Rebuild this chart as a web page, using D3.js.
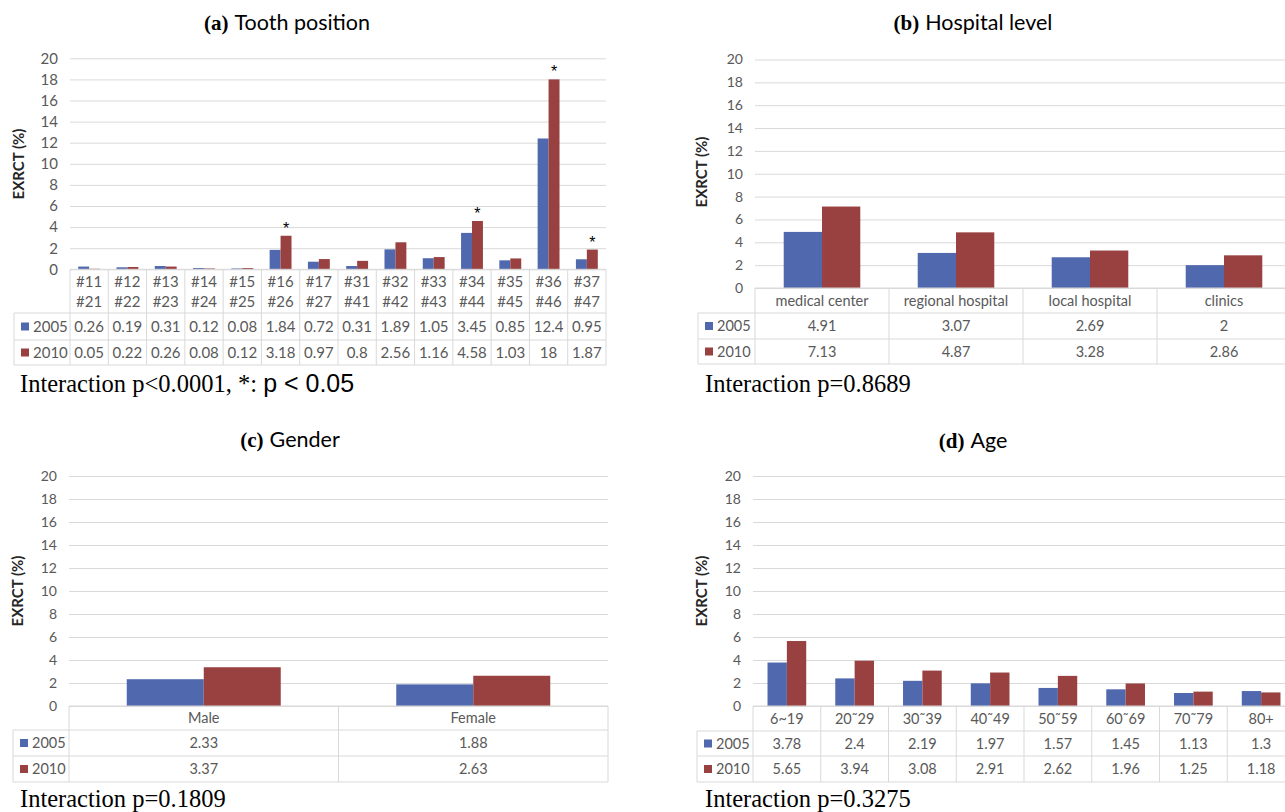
<!DOCTYPE html>
<html>
<head>
<meta charset="utf-8">
<script src="https://cdn.jsdelivr.net/npm/d3@7"></script>
<style>
  body { margin: 0; background: #fff; overflow: hidden; }
  svg { display: block; }
</style>
</head>
<body>
<svg id="fig" width="1285" height="812"></svg>
<script>
var years = ["2005", "2010"]
var yTicks = [0, 2, 4, 6, 8, 10, 12, 14, 16, 18, 20]

// (a) tooth position
var teethTop = ["#11", "#12", "#13", "#14", "#15", "#16", "#17", "#31", "#32", "#33", "#34", "#35", "#36", "#37"]
var teethBottom = ["#21", "#22", "#23", "#24", "#25", "#26", "#27", "#41", "#42", "#43", "#44", "#45", "#46", "#47"]
var tooth2005 = [0.26, 0.19, 0.31, 0.12, 0.08, 1.84, 0.72, 0.31, 1.89, 1.05, 3.45, 0.85, 12.4, 0.95]
var tooth2010 = [0.05, 0.22, 0.26, 0.08, 0.12, 3.18, 0.97, 0.8, 2.56, 1.16, 4.58, 1.03, 18, 1.87]
var toothStars = ["#16", "#34", "#36", "#37"]

// (b) hospital level
var hospitals = ["medical center", "regional hospital", "local hospital", "clinics"]
var hospital2005 = [4.91, 3.07, 2.69, 2]
var hospital2010 = [7.13, 4.87, 3.28, 2.86]

// (c) gender
var genders = ["Male", "Female"]
var gender2005 = [2.33, 1.88]
var gender2010 = [3.37, 2.63]

// (d) age
var ages = ["6~19", "20˜29", "30˜39", "40˜49", "50˜59", "60˜69", "70˜79", "80+"]
var age2005 = [3.78, 2.4, 2.19, 1.97, 1.57, 1.45, 1.13, 1.3]
var age2010 = [5.65, 3.94, 3.08, 2.91, 2.62, 1.96, 1.25, 1.18]

var colors = {"2005": "#5068ae", "2010": "#994141"}
var gridColor = "#d9d9d9"
var textColor = "#595959"
var sans = "Lato, 'Open Sans', sans-serif"
var serif = "'Liberation Serif', 'Times New Roman', serif"

var svg = d3.select("#fig")

function drawPanel(p) {
  var g = svg.append("g")
  var x = d3.scaleBand().domain(p.cats).range([p.left, p.right])
  var xIn = d3.scaleBand().domain(years).range([0, x.bandwidth()]).paddingOuter(0.75)
  var y = d3.scaleLinear().domain([0, 20]).range([p.y0, p.y20])

  // title
  var title = g.append("text")
    .attr("x", p.titleX).attr("y", p.titleY)
    .attr("text-anchor", "middle")
    .attr("fill", "#000")
  title.append("tspan").text(p.tag)
    .style("font-family", serif).style("font-weight", "bold").style("font-size", "21px")
  title.append("tspan").text(p.title).attr("dx", 6)
    .style("font-family", sans).style("font-size", "21.5px")

  // gridlines + tick labels
  var axis = d3.axisLeft(y).tickValues(yTicks).tickSize(-(p.right - p.left)).tickPadding(12)
  var ax = g.append("g").attr("transform", "translate(" + p.left + ",0)").call(axis)
  ax.select(".domain").remove()
  ax.selectAll("line").attr("stroke", gridColor).attr("stroke-width", 1)
  ax.selectAll("text").attr("fill", textColor)
    .style("font-family", sans).style("font-size", p.tickFont + "px")

  // y label
  g.append("text")
    .attr("transform", "translate(" + p.labelX + "," + p.labelY + ") rotate(-90)")
    .attr("text-anchor", "middle")
    .attr("dy", "0.35em")
    .style("font-family", sans).style("font-weight", "bold").style("font-size", "15px")
    .attr("fill", "#262626")
    .text("EXRCT (%)")

  // bars
  var bars = []
  years.forEach(function(yr) {
    p.cats.forEach(function(c, i) {
      bars.push({cat: c, year: yr, value: p.values[yr][i]})
    })
  })
  g.selectAll(".bar")
    .data(bars)
    .enter().append("rect")
    .attr("class", "bar")
    .attr("x", d => x(d.cat) + xIn(d.year))
    .attr("y", d => y(d.value))
    .attr("width", xIn.bandwidth())
    .attr("height", d => y(0) - y(d.value))
    .attr("fill", d => colors[d.year])

  // significance stars
  if (p.stars) {
    g.selectAll(".star")
      .data(p.stars)
      .enter().append("text")
      .attr("class", "star")
      .attr("x", c => x(c) + xIn("2010") + xIn.bandwidth() / 2)
      .attr("y", c => y(p.values["2010"][p.cats.indexOf(c)]) - 2)
      .attr("text-anchor", "middle")
      .style("font-family", "'Liberation Sans', Arial, sans-serif")
      .style("font-size", "16px")
      .attr("fill", "#000")
      .text("*")
  }

  // data table
  var rowsY = p.rows  // [header bottom, 2005 bottom, 2010 bottom]
  var lines = g.append("g").attr("stroke", gridColor).attr("stroke-width", 1).attr("fill", "none")
  lines.append("line").attr("x1", p.left).attr("x2", p.right).attr("y1", p.y0).attr("y2", p.y0)
  rowsY.forEach(function(ry) {
    lines.append("line").attr("x1", p.tableLeft).attr("x2", p.right).attr("y1", ry).attr("y2", ry)
  })
  lines.append("line").attr("x1", p.tableLeft).attr("x2", p.tableLeft).attr("y1", rowsY[0]).attr("y2", rowsY[2])
  var edges = p.cats.map(c => x(c)).concat([p.right])
  edges.forEach(function(ex) {
    lines.append("line").attr("x1", ex).attr("x2", ex).attr("y1", p.y0).attr("y2", rowsY[2])
  })

  var fs = p.tableFont
  // header
  var head = g.selectAll(".head")
    .data(p.cats)
    .enter().append("text")
    .attr("class", "head")
    .attr("x", c => x(c) + x.bandwidth() / 2)
    .attr("text-anchor", "middle")
    .attr("fill", textColor)
    .style("font-family", sans).style("font-size", fs + "px")
  var headMid = (p.y0 + rowsY[0]) / 2
  if (p.labels2) {
    head.append("tspan").attr("x", c => x(c) + x.bandwidth() / 2).attr("y", headMid - 4).text(c => c)
    head.append("tspan").attr("x", c => x(c) + x.bandwidth() / 2).attr("y", headMid + 16)
      .text((c, i) => p.labels2[i])
  } else {
    head.attr("y", headMid + fs * 0.36).text(c => c)
  }

  // value rows
  years.forEach(function(yr, r) {
    var top = rowsY[r], bottom = rowsY[r + 1]
    var mid = (top + bottom) / 2
    g.append("rect")
      .attr("x", p.tableLeft + 7).attr("y", mid - 4)
      .attr("width", 8).attr("height", 8)
      .attr("fill", colors[yr])
    g.append("text")
      .attr("x", p.tableLeft + 19).attr("y", mid + fs * 0.36)
      .attr("fill", textColor)
      .style("font-family", sans).style("font-size", fs + "px")
      .text(yr)
    g.selectAll(".v" + yr)
      .data(p.cats)
      .enter().append("text")
      .attr("x", c => x(c) + x.bandwidth() / 2)
      .attr("y", mid + fs * 0.36)
      .attr("text-anchor", "middle")
      .attr("fill", textColor)
      .style("font-family", sans).style("font-size", fs + "px")
      .text((c, i) => String(p.values[yr][i]))
  })

  // interaction note
  var note = g.append("text").attr("x", p.noteX).attr("y", p.noteY).attr("fill", "#000")
  note.append("tspan").text(p.note)
    .style("font-family", serif).style("font-size", "24.5px")
  if (p.note2) {
    note.append("tspan").text(p.note2)
      .style("font-family", "'Liberation Sans', Arial, sans-serif").style("font-size", "25px")
  }
}

drawPanel({
  tag: "(a)", title: "Tooth position",
  cats: teethTop, labels2: teethBottom,
  values: {"2005": tooth2005, "2010": tooth2010},
  stars: toothStars,
  left: 70, right: 606, y0: 269.3, y20: 58.3,
  tableLeft: 14, rows: [313, 340, 365],
  titleX: 287, titleY: 30, labelX: 19, labelY: 164,
  tickFont: 15, tableFont: 15,
  note: "Interaction p<0.0001, *: ", note2: "p < 0.05", noteX: 20, noteY: 392
})

drawPanel({
  tag: "(b)", title: "Hospital level",
  cats: hospitals,
  values: {"2005": hospital2005, "2010": hospital2010},
  left: 755, right: 1291, y0: 288, y20: 59.5,
  tableLeft: 698, rows: [313, 339, 364],
  titleX: 973, titleY: 30, labelX: 702, labelY: 172,
  tickFont: 14, tableFont: 14.5,
  note: "Interaction p=0.8689", noteX: 705, noteY: 392
})

drawPanel({
  tag: "(c)", title: "Gender",
  cats: genders,
  values: {"2005": gender2005, "2010": gender2010},
  left: 69, right: 608, y0: 706, y20: 476,
  tableLeft: 13, rows: [730, 756, 782],
  titleX: 290, titleY: 447, labelX: 18, labelY: 591,
  tickFont: 14, tableFont: 14.5,
  note: "Interaction p=0.1809", noteX: 20, noteY: 807
})

drawPanel({
  tag: "(d)", title: "Age",
  cats: ages,
  values: {"2005": age2005, "2010": age2010},
  left: 753, right: 1295, y0: 706, y20: 476,
  tableLeft: 697, rows: [731, 756, 782],
  titleX: 973, titleY: 448, labelX: 702, labelY: 591,
  tickFont: 14, tableFont: 14.5,
  note: "Interaction p=0.3275", noteX: 705, noteY: 807
})
</script>
</body>
</html>
